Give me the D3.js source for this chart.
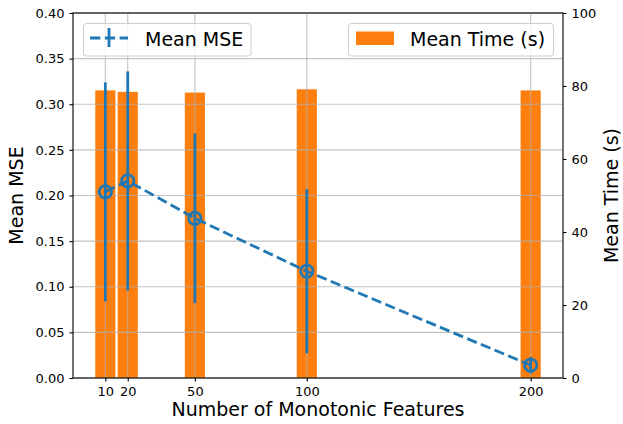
<!DOCTYPE html>
<html>
<head>
<meta charset="utf-8">
<script src="https://cdn.jsdelivr.net/npm/d3@7"></script>
<style>
  body { margin: 0; background: #fff; }
  svg { font-family: "DejaVu Sans", sans-serif; }
</style>
</head>
<body>
<svg id="chart" width="623" height="424"></svg>
<script>
var features = [10, 20, 50, 100, 200];
var meanMse = [0.204, 0.216, 0.175, 0.117, 0.014];
var mseStd = [0.120, 0.120, 0.093, 0.090, 0.009];
var meanTime = [78.8, 78.4, 78.2, 79.1, 78.8];
var mseTicks = [0, 0.05, 0.10, 0.15, 0.20, 0.25, 0.30, 0.35, 0.40];
var timeTicks = [0, 20, 40, 60, 80, 100];
var barWidth = 9;

var blue = "#1f77b4", orange = "#ff7f0e";
var svg = d3.select("#chart");
var margin = {top: 13, right: 60, bottom: 46, left: 73};
var width = 623, height = 424;

var x = d3.scaleLinear().domain([-4.45, 214.45]).range([margin.left, width - margin.right]);
var y = d3.scaleLinear().domain([0, 0.4]).range([height - margin.bottom, margin.top]);
var y2 = d3.scaleLinear().domain([0, 100]).range([height - margin.bottom, margin.top]);

// bars (time)
svg.selectAll("rect.bar")
    .data(features)
    .enter()
    .append("rect")
    .attr("class", "bar")
    .attr("x", function(d) { return x(d - barWidth / 2); })
    .attr("width", function(d) { return x(d + barWidth / 2) - x(d - barWidth / 2); })
    .attr("y", function(d, i) { return y2(meanTime[i]); })
    .attr("height", function(d, i) { return y2(0) - y2(meanTime[i]); })
    .attr("fill", orange);

// grid
var grid = svg.append("g").attr("stroke", "#b0b0b0").attr("stroke-width", 1.1).attr("opacity", 0.75);
grid.selectAll("line.h")
    .data(mseTicks)
    .enter()
    .append("line")
    .attr("x1", margin.left).attr("x2", width - margin.right)
    .attr("y1", function(d) { return y(d); }).attr("y2", function(d) { return y(d); });
grid.selectAll("line.v")
    .data(features)
    .enter()
    .append("line")
    .attr("y1", margin.top).attr("y2", height - margin.bottom)
    .attr("x1", function(d) { return x(d); }).attr("x2", function(d) { return x(d); });

// mse dashed line
var line = d3.line()
    .x(function(d) { return x(d); })
    .y(function(d, i) { return y(meanMse[i]); });
svg.append("path")
    .datum(features)
    .attr("d", line)
    .attr("fill", "none")
    .attr("stroke", blue)
    .attr("stroke-width", 2.8)
    .attr("stroke-dasharray", "10.3,4.5");

// error bars
svg.selectAll("line.err")
    .data(features)
    .enter()
    .append("line")
    .attr("x1", function(d) { return x(d); })
    .attr("x2", function(d) { return x(d); })
    .attr("y1", function(d, i) { return y(meanMse[i] - mseStd[i]); })
    .attr("y2", function(d, i) { return y(meanMse[i] + mseStd[i]); })
    .attr("stroke", blue)
    .attr("stroke-width", 2.8);

// markers
svg.selectAll("circle.pt")
    .data(features)
    .enter()
    .append("circle")
    .attr("cx", function(d) { return x(d); })
    .attr("cy", function(d, i) { return y(meanMse[i]); })
    .attr("r", 6.2)
    .attr("fill", "none")
    .attr("stroke", blue)
    .attr("stroke-width", 2.8);

// axes
var xAxis = d3.axisBottom(x).tickValues(features).tickSize(3.5).tickPadding(5);
var yAxis = d3.axisLeft(y).tickValues(mseTicks).tickSize(3.5).tickPadding(5).tickFormat(d3.format(".2f"));
var y2Axis = d3.axisRight(y2).tickValues(timeTicks).tickSize(3.5).tickPadding(5);

function styleAxis(g) {
    g.select(".domain").remove();
    g.selectAll("line").attr("stroke", "#000").attr("stroke-width", 1.1);
    g.selectAll("text").attr("font-size", 13).attr("fill", "#000")
        .attr("font-family", "DejaVu Sans, sans-serif");
}

svg.append("g")
    .attr("transform", "translate(0," + (height - margin.bottom) + ")")
    .call(xAxis).call(styleAxis);
svg.append("g")
    .attr("transform", "translate(" + margin.left + ",0)")
    .call(yAxis).call(styleAxis);
svg.append("g")
    .attr("transform", "translate(" + (width - margin.right) + ",0)")
    .call(y2Axis).call(styleAxis);

// frame
svg.append("rect")
    .attr("x", margin.left).attr("y", margin.top)
    .attr("width", width - margin.right - margin.left)
    .attr("height", height - margin.bottom - margin.top)
    .attr("fill", "none").attr("stroke", "#000").attr("stroke-width", 1.1);

// labels
svg.append("text")
    .attr("x", margin.left + (width - margin.left - margin.right) / 2)
    .attr("y", 416)
    .attr("text-anchor", "middle")
    .attr("font-size", 19)
    .text("Number of Monotonic Features");
svg.append("text")
    .attr("transform", "translate(23," + (margin.top + (height - margin.top - margin.bottom) / 2) + ") rotate(-90)")
    .attr("text-anchor", "middle")
    .attr("font-size", 19)
    .text("Mean MSE");
svg.append("text")
    .attr("transform", "translate(618," + (margin.top + (height - margin.top - margin.bottom) / 2) + ") rotate(-90)")
    .attr("text-anchor", "middle")
    .attr("font-size", 19)
    .text("Mean Time (s)");

// legends
function legendBox(x0, w) {
    svg.append("rect")
        .attr("x", x0).attr("y", 23.5).attr("width", w).attr("height", 32.5)
        .attr("rx", 3)
        .attr("fill", "#fff").attr("fill-opacity", 0.8)
        .attr("stroke", "#cccccc").attr("stroke-width", 1);
}
legendBox(83.5, 167.5);
svg.append("line")
    .attr("x1", 90).attr("x2", 128).attr("y1", 38).attr("y2", 38)
    .attr("stroke", blue).attr("stroke-width", 2.8).attr("stroke-dasharray", "10.3,4.5");
svg.append("line")
    .attr("x1", 109).attr("x2", 109).attr("y1", 28).attr("y2", 47)
    .attr("stroke", blue).attr("stroke-width", 2.8);
svg.append("text")
    .attr("x", 145).attr("y", 45.5)
    .attr("font-size", 19)
    .text("Mean MSE");

legendBox(348.5, 205);
svg.append("rect")
    .attr("x", 356).attr("y", 31.5).attr("width", 38).attr("height", 13.5)
    .attr("fill", orange);
svg.append("text")
    .attr("x", 410).attr("y", 45.5)
    .attr("font-size", 19)
    .text("Mean Time (s)");
</script>
</body>
</html>
